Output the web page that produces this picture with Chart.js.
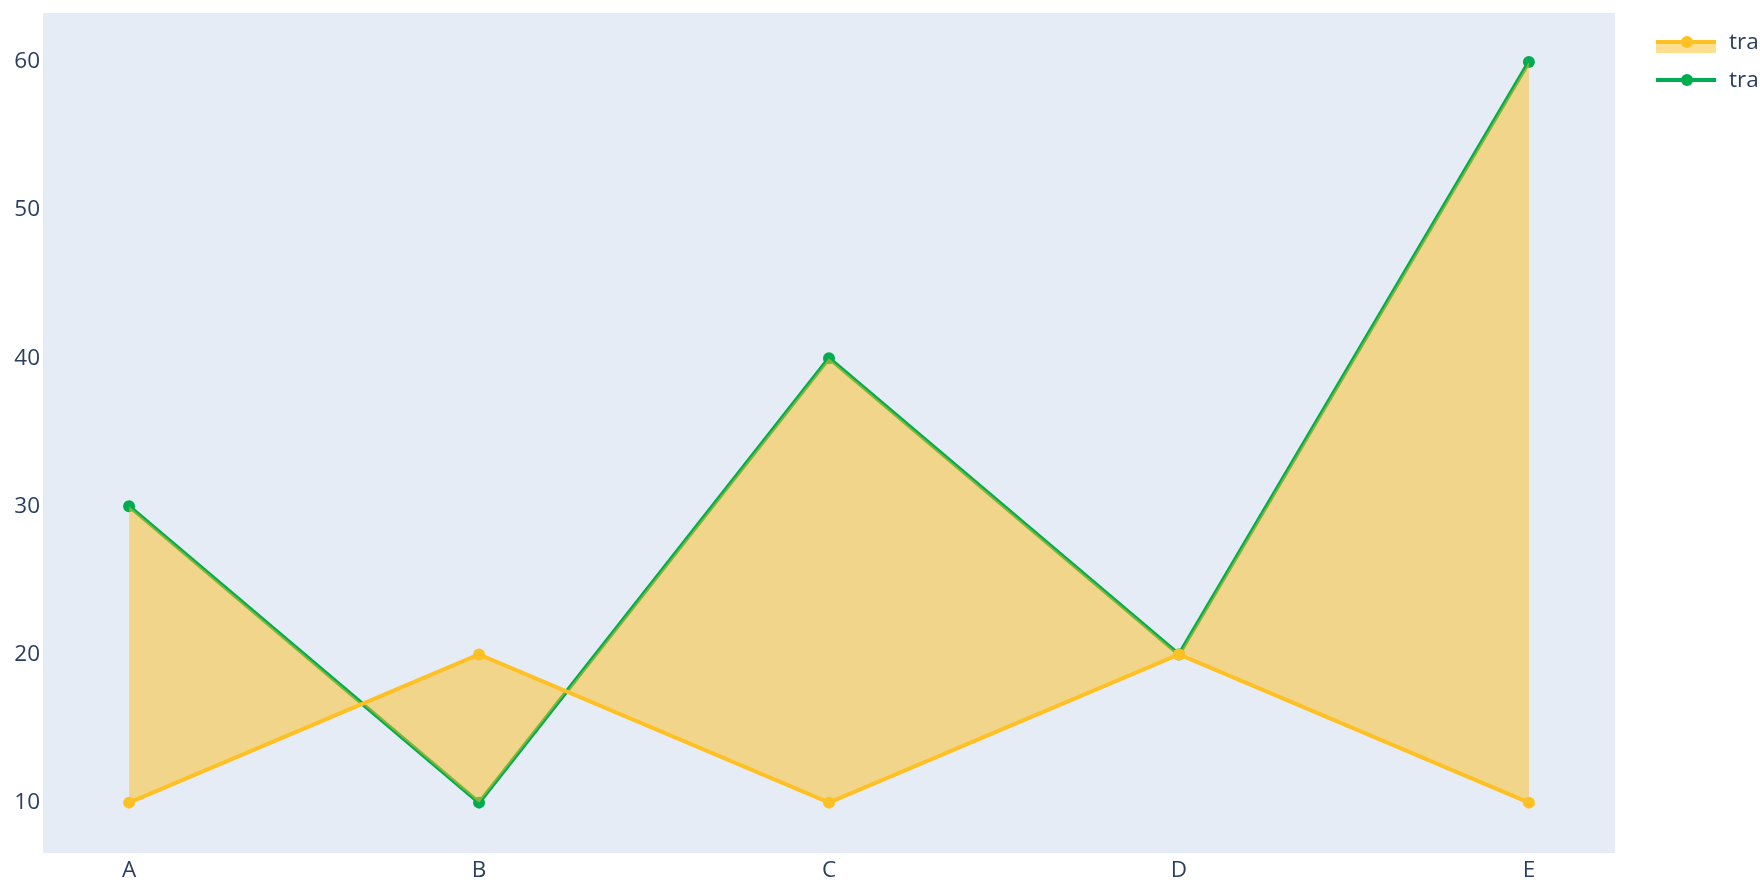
<!DOCTYPE html>
<html>
<head>
<meta charset="utf-8">
<script src="https://cdn.jsdelivr.net/npm/chart.js@4/dist/chart.umd.min.js"></script>
<style>
  html, body { margin: 0; padding: 0; background: #fff; }
  #wrap { width: 1760px; height: 885px; position: relative; }
</style>
</head>
<body>
<div id="wrap"><canvas id="chart"></canvas></div>
<script>
const categories = ['A', 'B', 'C', 'D', 'E'];
const trace0 = [10, 20, 10, 20, 10];
const trace1 = [30, 10, 40, 20, 60];
const seriesNames = ['trace 0', 'trace 1'];
const yTicks = [10, 20, 30, 40, 50, 60];

const yellow = '#FFC024';
const yellowFill = 'rgba(253, 190, 32, 0.5)';
const green = '#00AC50';
const textColor = '#2a3f5f';
const font = { family: '"Open Sans", sans-serif', size: 22.5 };

const toPoints = vals => vals.map((v, i) => ({ x: i, y: v }));

const plotBg = {
    id: 'plotBg',
    beforeDraw(chart) {
        const a = chart.chartArea;
        const ctx = chart.ctx;
        ctx.save();
        ctx.fillStyle = '#E5ECF6';
        ctx.fillRect(a.left, a.top, a.right - a.left, a.bottom - a.top);
        ctx.restore();
    }
};

// plotly-style legend sitting right of the plot area
const sideLegend = {
    id: 'sideLegend',
    afterDraw(chart) {
        const ctx = chart.ctx;
        const x0 = chart.chartArea.right + 41;
        const rows = [
            { y: 42, color: yellow, fill: yellowFill, name: seriesNames[0] },
            { y: 80, color: green, fill: null, name: seriesNames[1] }
        ];
        ctx.save();
        rows.forEach(r => {
            if (r.fill) {
                ctx.fillStyle = r.fill;
                ctx.fillRect(x0, r.y, 60, 11);
            }
            ctx.strokeStyle = r.color;
            ctx.lineWidth = 4;
            ctx.beginPath();
            ctx.moveTo(x0, r.y);
            ctx.lineTo(x0 + 60, r.y);
            ctx.stroke();
            ctx.fillStyle = r.color;
            ctx.beginPath();
            ctx.arc(x0 + 31, r.y, 6, 0, Math.PI * 2);
            ctx.fill();
            ctx.fillStyle = textColor;
            ctx.font = font.size + 'px ' + font.family;
            ctx.textBaseline = 'middle';
            ctx.fillText(r.name, x0 + 73, r.y + 1);
        });
        ctx.restore();
    }
};

new Chart(document.getElementById('chart').getContext('2d'), {
    type: 'line',
    data: {
        datasets: [{
            label: seriesNames[0],
            data: toPoints(trace0),
            borderColor: yellow,
            backgroundColor: yellowFill,
            pointBackgroundColor: yellow,
            pointBorderWidth: 0,
            pointRadius: 6,
            borderWidth: 4,
            fill: '+1',
            tension: 0
        }, {
            label: seriesNames[1],
            data: toPoints(trace1),
            borderColor: green,
            backgroundColor: green,
            pointBackgroundColor: green,
            pointBorderWidth: 0,
            pointRadius: 6,
            borderWidth: 4,
            fill: false,
            tension: 0
        }]
    },
    options: {
        responsive: true,
        maintainAspectRatio: false,
        animation: false,
        layout: { padding: { top: 13, right: 145, left: 0, bottom: 0 } },
        scales: {
            x: {
                type: 'linear',
                min: -0.246,
                max: 4.246,
                afterBuildTicks: scale => {
                    scale.ticks = categories.map((c, i) => ({ value: i }));
                },
                afterFit: scale => {
                    scale.height = 32;
                    scale.paddingLeft = 0;
                    scale.paddingRight = 0;
                },
                grid: { display: false, drawTicks: false },
                border: { display: false },
                ticks: {
                    color: textColor,
                    font: font,
                    padding: 4,
                    maxRotation: 0,
                    callback: v => categories[v]
                }
            },
            y: {
                min: 6.6,
                max: 63.3,
                afterBuildTicks: scale => {
                    scale.ticks = yTicks.map(v => ({ value: v }));
                },
                afterFit: scale => {
                    scale.width = 43;
                    scale.paddingTop = 0;
                    scale.paddingBottom = 0;
                },
                grid: { display: false, drawTicks: false },
                border: { display: false },
                ticks: {
                    color: textColor,
                    font: font,
                    padding: 3
                }
            }
        },
        plugins: {
            legend: { display: false },
            tooltip: { enabled: false },
            filler: { propagate: false }
        }
    },
    plugins: [plotBg, sideLegend]
});
</script>
</body>
</html>
